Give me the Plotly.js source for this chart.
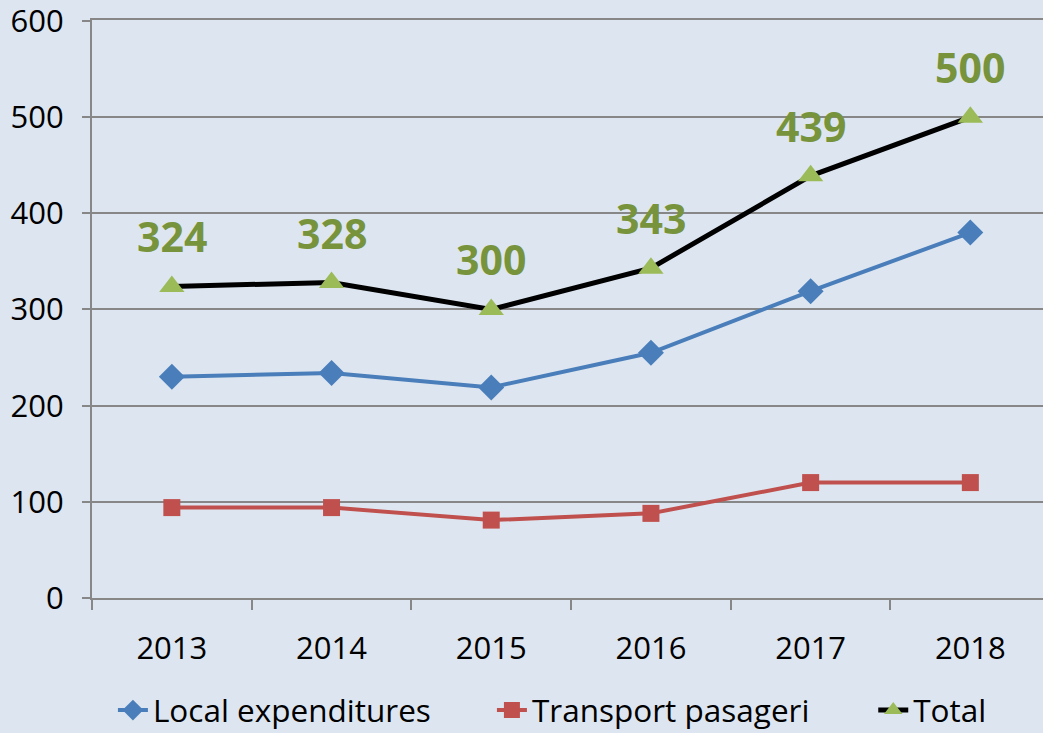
<!DOCTYPE html>
<html>
<head>
<meta charset="utf-8">
<script src="https://cdn.plot.ly/plotly-3.0.1.min.js"></script>
<style>html,body{margin:0;padding:0;background:#dde6f0;overflow:hidden}</style>
</head>
<body>
<div id="chart" style="width:1043px;height:733px"></div>
<script>
const years = ["2013", "2014", "2015", "2016", "2017", "2018"];
const localExpenditures = [230, 234, 219, 255, 319, 380];
const transportPasageri = [94, 94, 81, 88, 120, 120];
const total = [324, 328, 300, 343, 439, 500];
const yTicks = [0, 100, 200, 300, 400, 500, 600];

const FONT = "'Open Sans', 'Noto Sans', sans-serif";

const traces = [
  {
    x: years, y: localExpenditures, name: "Local expenditures",
    type: "scatter", mode: "lines+markers", legend: "legend",
    line: {color: "#4a7ebb", width: 4},
    marker: {symbol: "diamond", size: 20, color: "#4a7ebb"}
  },
  {
    x: years, y: transportPasageri, name: "Transport pasageri",
    type: "scatter", mode: "lines+markers", legend: "legend",
    line: {color: "#c0504d", width: 4},
    marker: {symbol: "square", size: 17, color: "#c0504d"}
  },
  {
    x: years, y: total, name: "Total",
    type: "scatter", mode: "lines+markers", legend: "legend2",
    line: {color: "#000000", width: 5},
    marker: {symbol: "triangle-up", size: 22, color: "#9bbb59"}
  }
];

const annotations = years.map((yr, i) => ({
  x: i, y: total[i], xref: "x", yref: "y",
  text: "<b>" + total[i] + "</b>", showarrow: false, yshift: 50,
  font: {family: FONT, size: 41, color: "#77933c"}
}));

const legendCommon = {
  orientation: "h", xanchor: "left", y: -0.194, yanchor: "middle",
  font: {family: FONT, size: 31.5, color: "#000000"},
  bgcolor: "rgba(0,0,0,0)", traceorder: "normal"
};

const layout = {
  width: 1043, height: 733,
  paper_bgcolor: "#dde6f0", plot_bgcolor: "#dde6f0",
  margin: {l: 92, r: 0, t: 20, b: 135, autoexpand: false},
  font: {family: FONT, size: 31, color: "#000000"},
  showlegend: true,
  legend: Object.assign({}, legendCommon, {x: 0.022, entrywidth: 334, entrywidthmode: "pixels"}),
  legend2: Object.assign({}, legendCommon, {x: 0.8215}),
  xaxis: {
    type: "category", range: [-0.5, 5.455],
    showgrid: false, zeroline: false,
    showline: true, mirror: true, linecolor: "#878787", linewidth: 2,
    ticks: "outside", tickson: "boundaries", ticklen: 10, tickwidth: 2, tickcolor: "#878787",
    ticklabelstandoff: 22, ticklabeloverflow: "allow",
    tickfont: {family: FONT, size: 31, color: "#000000"},
    fixedrange: true
  },
  yaxis: {
    range: [0, 601], tickmode: "array", tickvals: yTicks, ticktext: yTicks.map(String),
    showgrid: true, gridcolor: "#878787", gridwidth: 2,
    zeroline: false,
    showline: true, linecolor: "#878787", linewidth: 2,
    ticks: "outside", ticklen: 8, tickwidth: 2, tickcolor: "#878787",
    ticklabelstandoff: 12, ticklabeloverflow: "allow",
    tickfont: {family: FONT, size: 31, color: "#000000"},
    fixedrange: true
  },
  annotations: annotations
};

Plotly.newPlot("chart", traces, layout, {displayModeBar: false});
</script>
</body>
</html>
